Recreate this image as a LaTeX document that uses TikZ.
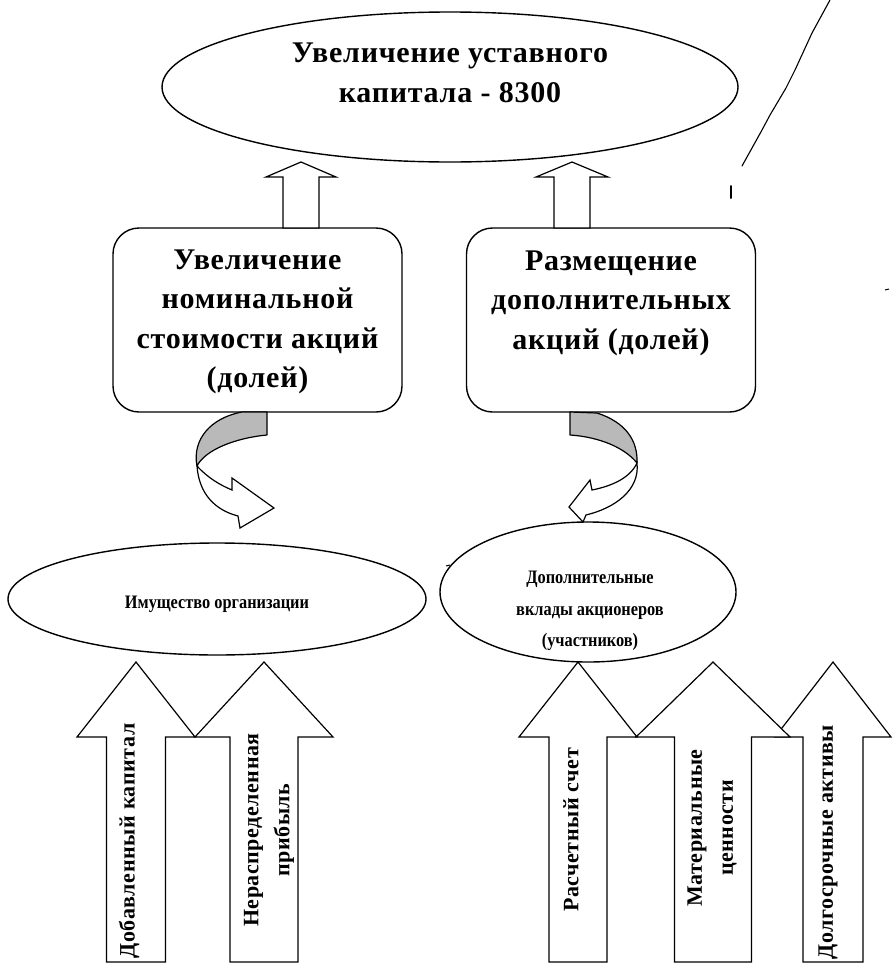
\documentclass[tikz,border=0pt]{standalone}
\usepackage{fontspec}
\setmainfont{Liberation Serif}
\newfontfamily\spaced{Liberation Serif}[LetterSpace=2.5]
\newfontfamily\narrowfont{Liberation Serif}[FakeStretch=0.86]
\usetikzlibrary{shapes.geometric}
\tikzset{
  outline/.style={draw=black, line width=1.4pt},
  oval/.style={outline, ellipse, inner sep=0pt},
  box/.style={outline, rounded corners=26pt, minimum width=289pt, minimum height=184pt, inner sep=0pt},
  bigtext/.style={align=center, font=\spaced\bfseries\fontsize{30}{39.5}\selectfont},
  smalltext/.style={align=center, font=\narrowfont\bfseries\fontsize{19}{31.5}\selectfont},
  arrowtext/.style={align=center, rotate=90, font=\spaced\bfseries\fontsize{22}{31}\selectfont},
  blockarrow/.style={draw=black, line width=1.2pt, fill=white, line join=miter},
  ribbonshade/.style={draw=black, line width=1.2pt, fill=gray!55, line join=round},
  ribbonwhite/.style={draw=black, line width=1.2pt, fill=white, line join=miter},
  speck/.style={draw=black, line width=1pt},
}
\newcommand{\blockup}[6]{%
  \draw[blockarrow] (#1-#6,#4) -- (#1-#6,#3) -- (#1-#5,#3) -- (#1,#2) -- (#1+#5,#3) -- (#1+#6,#3) -- (#1+#6,#4) -- cycle;}
\begin{document}
\begin{tikzpicture}[x=1pt, y=-1pt]
\useasboundingbox (0,0) rectangle (892,964);
\fill[white] (0,0) rectangle (892,964);

% top ellipse
\node[oval, minimum width=576pt, minimum height=150pt] (top) at (450,87) {};
\node[bigtext] (toptext) at (450,73) {Увеличение уставного\\капитала - 8300};

% boxes
\node[box] (b1) at (257.5,320) {};
\node[bigtext] (b1text) at (257.5,322) {Увеличение\\номинальной\\стоимости акций\\(долей)};
\node[box] (b2) at (611,320) {};
\node[bigtext] (b2text) at (611,303) {Размещение\\дополнительных\\акций (долей)};

% small hollow up arrows from boxes to top ellipse
\blockup{301}{162}{177}{228}{35}{18}
\blockup{572}{162}{177}{228}{36}{18}

% lower ellipses
\node[oval, minimum width=418pt, minimum height=112pt] (prop) at (217,599) {};
\node[smalltext] (proptext) at (217,604) {Имущество организации};
\node[oval, minimum width=296pt, minimum height=140pt] (contr) at (588,592) {};
\node[smalltext] (contrtext) at (590,611) {Дополнительные\\вклады акционеров\\(участников)};

% left curved arrow (box -> property)
\draw[ribbonshade] (242,412) -- (267,412) -- (267,435)
  .. controls (235,438) and (205,450) .. (197,466)
  .. controls (192,440) and (210,418) .. (242,412) -- cycle;
\draw[ribbonwhite] (197,466) .. controls (208,478) and (220,485) .. (232,490)
  -- (232,478) -- (274,508) -- (240,528) -- (238,516)
  .. controls (215,510) and (199,494) .. (197,466) -- cycle;

% right curved arrow (box -> contributions)
\draw[ribbonshade] (570,412) -- (597,413)
  .. controls (625,422) and (638,440) .. (637,463)
  .. controls (625,448) and (600,437) .. (570,435) -- cycle;
\draw[ribbonwhite] (637,463) .. controls (630,478) and (612,486) .. (592,490)
  -- (590,480) -- (569,507) -- (583,522) -- (586,515)
  .. controls (615,508) and (640,490) .. (637,463) -- cycle;

% bottom block arrows, left group
\blockup{136}{662}{737}{962}{59}{29.5}
\blockup{264}{662}{737}{962}{69}{34}
\node[arrowtext] (a1) at (129,841) {Добавленный капитал};
\node[arrowtext] (a2) at (269,830) {Нераспределенная\\прибыль};

% bottom block arrows, right group
\blockup{833}{662}{737}{962}{58}{30}
\blockup{578}{662}{737}{962}{59}{29}
\blockup{713}{662}{737}{962}{77}{38.5}
\node[arrowtext] (a3) at (571,830) {Расчетный счет};
\node[arrowtext] (a4) at (712,828) {Материальные\\ценности};
\node[arrowtext] (a5) at (828,842) {Долгосрочные активы};

% stray scan marks
\draw[line width=1.1pt, line cap=round] (830,0) -- (812,33) -- (795,70) -- (786,88) -- (770,115) -- (762,130) -- (742,166);
\draw[line width=2pt, line cap=round] (731,186) -- (731,198);
\draw[speck] (446,566) -- (450,565);
\draw[speck] (885,290) -- (889,289);
\end{tikzpicture}
\end{document}
